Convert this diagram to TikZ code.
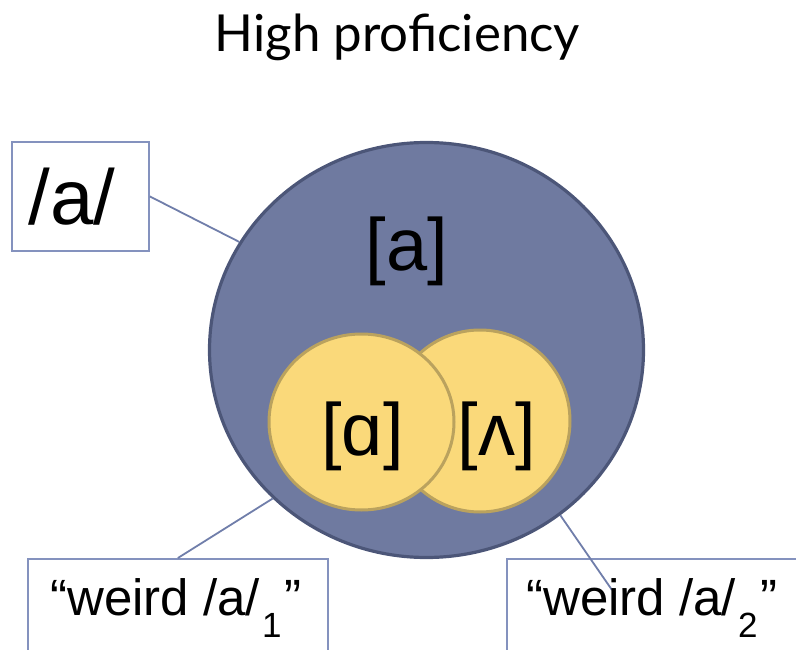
\documentclass[tikz,border=0pt]{standalone}
\usepackage{fontspec}
\setmainfont{Liberation Sans}
\newfontfamily\titlefont{Lato}
\usetikzlibrary{shapes.geometric}
\definecolor{bigfill}{RGB}{111,122,160}
\definecolor{bigline}{RGB}{76,86,120}
\definecolor{yelfill}{RGB}{250,217,122}
\definecolor{yelline}{RGB}{186,162,94}
\definecolor{connline}{RGB}{112,126,170}
\definecolor{boxline}{RGB}{132,146,190}
\tikzset{
  bigcirc/.style={ellipse, draw=bigline, line width=3.2pt, fill=bigfill, inner sep=0pt},
  yelcirc/.style={ellipse, draw=yelline, line width=3pt, fill=yelfill, inner sep=0pt},
  conn/.style={draw=connline, line width=1.8pt},
  labelbox/.style={draw=boxline, line width=1.8pt, fill=white, rectangle, inner sep=0pt},
  ipa/.style={font=\fontsize{74}{74}\selectfont, anchor=base, inner sep=0pt},
  weird/.style={font=\fontsize{51}{51}\selectfont, anchor=base, inner sep=0pt}
}
\newcommand{\subdigit}[1]{\kern2pt\raisebox{-22pt}{\fontsize{35}{35}\selectfont #1}\kern3pt}
\begin{document}
\begin{tikzpicture}[x=1pt,y=-1pt]
\useasboundingbox (0,0) rectangle (796,650);
\clip (0,0) rectangle (796,650);

\node[font=\titlefont\fontsize{51}{51}\selectfont, anchor=base, inner sep=0pt] (title) at (397.5,52) {High proficiency};

\node[bigcirc, minimum width=434pt, minimum height=415pt] (big) at (426.5,350) {};
\node[ipa] (abig) at (407,270) {[a]};

\node[yelcirc, minimum width=180pt, minimum height=182pt] (yright) at (480,421) {};
\node[yelcirc, minimum width=185pt, minimum height=176pt] (yleft) at (361.5,422) {};
\node[ipa] (ascript) at (362.5,455) {[ɑ]};
\node[ipa] (wedge) at (497,455) {[ʌ]};

\node[labelbox, minimum height=109pt, text width=103pt, inner xsep=17pt, align=left,
      font=\fontsize{78}{78}\selectfont, anchor=north west] (phon) at (11,141) {/a/};

\node[labelbox, anchor=north west, minimum width=300pt, minimum height=120pt] (w1box) at (27,558) {};
\node[labelbox, anchor=north west, minimum width=320pt, minimum height=120pt] (w2box) at (506,558) {};
\coordinate (w2end) at (612,590);

\draw[conn] (phon.east) -- (big.150);
\draw[conn] (w1box.north) -- (big.224);
\draw[conn] (big.309) -- (w2end);

\node[weird] (w1text) at (176,615) {“weird /a/\subdigit{1}”};
\node[weird] (w2text) at (652,615) {“weird /a/\subdigit{2}”};
\end{tikzpicture}
\end{document}
